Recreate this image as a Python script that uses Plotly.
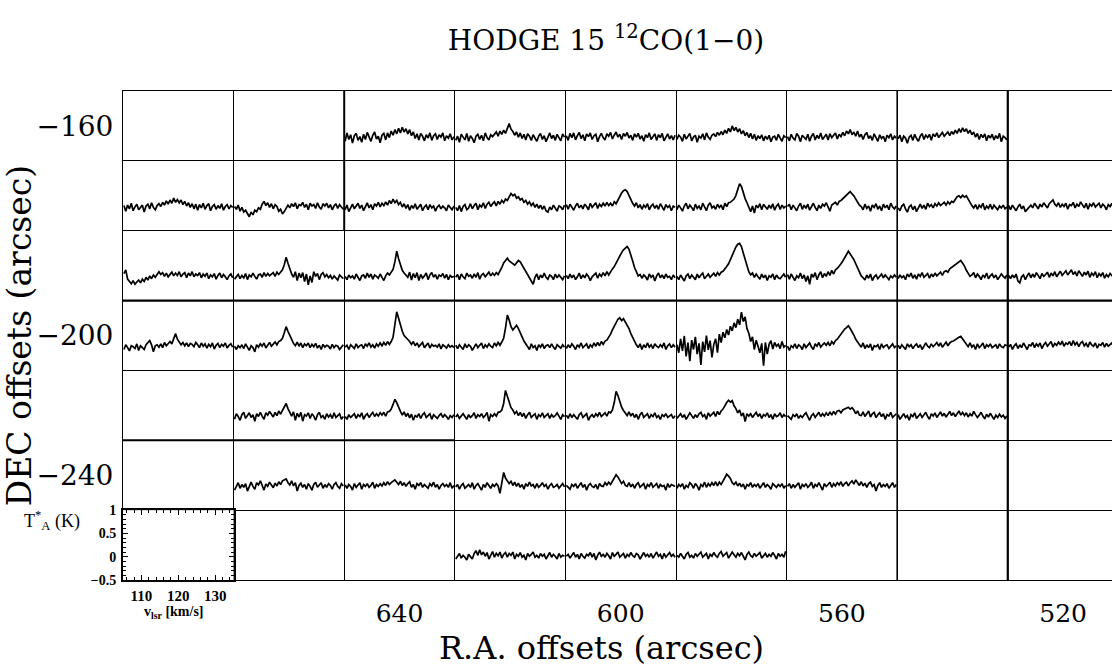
import plotly.graph_objects as go

# ---------------- data ----------------
# every panel: velocity 105..135 km/s (left->right), T*A from -0.5 to 1 K (bottom->top)
V_MIN, V_MAX = 105.0, 135.0
T_MIN, T_MAX = -0.5, 1.0
RA_STEP = 20                                   # arcsec per map column
RA_COLUMNS = [680, 660, 640, 620, 600, 580, 560, 540, 520]
RA_TICKS = [640, 600, 560, 520]
DEC_ROW_LABELS = ["−160", "", "", "−200", "", "−240", ""]   # one entry per map row (top -> bottom)
INSET_V_TICKS = [110, 120, 130]
INSET_T_TICKS = [-0.5, 0, 0.5, 1]

# spectra, T*A in units of 0.01 K, one list per map position {RA offset: values}
ROW0 = {
    640: [-8, 10, -4, 6, -12, 4, 9, -6, 2, -10, 7, -4, 11, 0, -8, 5, 12, -3, 3, -11,
          5, 9, -5, 10, 0, 14, 5, 17, 8, 20, 10, 22, 12, 19, 8, 17, 4, 12, -2, 8,
          -5, 9, 3, -7, 6, -1, 10, -6, 4, 8, -4, 6, 1, 10, -7, 4, -1, 8, -5, 2],
    620: [-6, 3, -10, 7, 1, -5, 9, -8, 4, -2, -11, 3, 7, -4, 5, -7, 10, 0, -5, 6,
          2, 8, 12, 3, 14, 7, 16, 9, 18, 30, 18, 13, 5, 12, 1, 10, -2, 7, -5, 8,
          3, -6, 6, 0, -8, 3, 9, -4, 4, -9, 2, 10, -2, 5, -6, 7, 0, -7, 8, 1],
    600: [4, -6, 9, 0, 10, -5, 4, 11, -2, 6, -7, 8, 2, 10, -4, 4, 7, -9, 2, 9,
          0, -5, 8, 3, 11, -3, 5, 12, 1, 7, -4, 9, 3, 11, -1, 5, -6, 8, 1, 9,
          -3, 4, -8, 6, 0, 10, -4, 3, 8, -6, 6, 0, 9, -7, 2, 8, -3, 4, -5, 5],
    580: [-4, 5, 1, -8, 7, -3, 3, 9, -7, 1, 5, -10, 3, -1, 8, -5, 10, 1, -4, 5,
          8, 2, 11, 5, 13, 6, 16, 9, 20, 12, 25, 15, 22, 12, 19, 8, 15, 4, 11, 0,
          9, -3, 7, -6, 4, -2, 6, -7, 3, -4, 5, -9, 1, 3, -6, 7, -1, -8, 4, 0],
    560: [2, -7, 7, -1, -5, 9, 3, -9, 5, 0, -4, 7, -8, 3, 9, -5, 5, -2, 10, -4,
          3, 7, -5, 8, 0, 5, 10, -3, 7, 2, 11, 4, 14, 8, 17, 6, 12, 3, 14, 1,
          7, -4, 6, 11, -2, 4, -6, 8, 0, -8, 6, -2, 3, -9, 5, 0, 8, -5, 3, -1],
    540: [-3, 5, -9, 3, -1, -12, 1, 5, -6, 7, -2, -8, 3, 9, -4, 5, 0, 7, -6, 8,
          2, 10, 0, 6, 11, 3, 7, 12, 4, 13, 7, 16, 9, 19, 11, 21, 13, 19, 9, 16,
          6, 12, 1, 9, -4, 7, 0, 8, -7, 5, -1, 7, -5, 4, -2, 9, -9, 3, 0, -5],
}
ROW1 = {
    680: [4, -8, 5, -3, 9, -7, 1, 7, -5, -1, 5, -10, 3, 7, -3, 10, 0, -5, 4, 8,
          2, 11, 5, 14, 7, 16, 9, 20, 11, 17, 10, 16, 6, 13, 3, 10, 0, 8, -3, 7,
          -6, 6, -1, 9, -4, 4, 8, -7, 2, 6, -4, 4, -2, 8, -6, 2, 6, -3, 4, 0],
    660: [2, -4, 5, -8, 0, -10, -6, -14, -20, -10, -16, -6, -9, -1, -4, 7, 13, 4, 10, 0,
          8, -3, 6, 2, -8, -4, -14, -9, -2, 5, -1, 8, 2, 10, -3, 6, 4, 11, 0, 7,
          -5, 9, 3, 6, -2, 10, 1, -4, 8, 3, 9, -1, 6, -5, 3, 8, -2, 6, 1, -4],
    640: [-5, 5, -9, 1, 7, -3, 3, 9, -2, 5, -7, 3, 10, -1, 6, -5, 8, 3, 11, 1,
          9, 4, 12, 5, 15, 8, 18, 10, 15, 6, 11, 1, 8, -2, 6, -6, 4, -2, 8, -4,
          3, 7, -7, 1, 5, -5, 6, -1, 3, -8, 1, 5, -3, 3, -1, -7, 5, 0, -5, 3],
    620: [0, -7, 4, -9, 2, 6, -5, -1, 8, -3, 4, 9, -5, 5, 1, 10, -2, 7, 11, 2,
          8, 12, 3, 13, 7, 15, 10, 18, 15, 24, 30, 25, 28, 20, 23, 16, 19, 11, 15, 7,
          12, 4, 9, 0, 7, -2, 5, -4, 3, -7, -10, 1, -5, 5, -1, -8, 3, 1, -5, 5],
    600: [6, -4, 7, 1, -6, 3, 9, -1, 5, -3, 7, 2, -5, 9, 0, 5, 10, -2, 7, 2,
          9, 3, 11, 4, 9, 3, 12, 8, 16, 24, 31, 36, 38, 34, 25, 16, 9, 3, 10, -1,
          6, -4, 5, 0, 8, -5, 3, 7, -2, 5, -4, 8, 2, -6, 6, 0, 4, -7, 3, 0],
    580: [-5, 5, -1, -8, 3, 9, -3, 5, 0, -7, 7, -2, 3, -5, 9, 1, -7, 5, 10, -1,
          3, -4, 7, 0, 5, -5, 9, 2, 10, 11, 14, 18, 26, 39, 51, 45, 31, 19, 10, 2,
          -9, 3, -12, 5, -1, 8, -5, 7, 0, -4, 5, -2, 8, -6, 3, 7, -4, 5, -1, 3],
    560: [2, 7, -5, 5, -1, -7, 3, 9, -4, 5, -2, 7, -6, 3, 9, 0, -7, 5, -2, 7,
          3, 10, 0, -8, 5, 8, 11, 5, 13, 15, 19, 23, 27, 31, 34, 29, 25, 18, 12, 5,
          2, -5, 7, -2, 3, -8, 5, 0, 8, -4, 3, -7, 7, -1, 5, -5, 9, 1, -3, 3],
    540: [-1, -7, 3, 7, -3, -10, 1, 5, -5, 3, -9, 1, 7, -2, 5, -4, 9, 2, 6, -1,
          8, 3, 10, 4, 8, 11, 5, 12, 7, 13, 11, 18, 23, 25, 21, 26, 22, 25, 19, 11,
          4, -1, 6, -4, 5, 0, 9, -5, 3, -2, 7, -4, 5, 0, -5, 3, -1, 5, -3, 1],
    520: [4, -5, 5, -1, -7, 1, 7, -3, 3, -9, -5, 1, 5, -1, 9, 3, -3, 7, 1, 10,
          5, -1, 8, 12, 16, 7, 3, 10, 0, 7, 2, 9, -4, 6, 4, 11, -1, 7, 2, 12,
          5, -1, 9, -4, 7, 3, 10, 1, 5, 9, -1, 7, 3, -5, 6, 2, 9, -2, 4, 7],
}
ROW2 = {
    680: [8, 16, -4, -9, -14, -7, -15, -10, -6, -12, -4, -9, 0, -6, 3, -3, 5, 0, 7, 12,
          6, 10, 2, 9, 1, 7, 11, 3, 9, 4, 12, 1, 7, 10, -1, 9, 3, 12, 1, 7,
          4, 10, -1, 7, 2, 9, -3, 5, 1, 8, -4, 4, 9, -1, 6, 1, -5, 3, 7, -1],
    660: [-4, 2, 6, -3, 4, -1, 8, -5, 5, 1, 9, 2, -4, 5, 7, 0, 10, 2, 8, 3,
          6, 10, 2, 11, 6, 10, 16, 27, 43, 30, 18, 7, 0, 12, -7, 9, -1, 10, -9, 7,
          -16, 3, -11, 12, 2, 8, -5, 6, 10, 1, 6, -1, 4, -4, 3, -2, -6, 5, 0, -3],
    640: [2, -5, 5, -1, 3, -4, 7, 1, -7, 3, 5, -2, 9, 0, 7, -4, 5, 2, -2, 7,
          1, -7, 3, 9, 5, 10, 17, 33, 56, 40, 27, 15, 9, 4, 0, 11, -6, 8, -1, 10,
          -7, 6, -2, 3, 9, -5, 5, 10, 0, 6, -4, 5, 2, 8, -2, 6, -5, 4, 0, 2],
    620: [0, 6, -5, 7, 1, -3, 9, 2, 5, -2, 7, 0, 10, -4, 5, 8, 1, 6, 11, 3,
          9, 4, 10, 6, 13, 21, 31, 37, 41, 35, 32, 28, 26, 31, 36, 33, 26, 19, 11, 4,
          -2, -10, -15, 0, 7, -5, 5, -1, 9, 0, -4, 5, 2, -5, 7, -1, 5, 0, -5, 3],
    600: [4, -3, 7, -1, 5, -5, 1, 9, -3, 5, -1, 7, 2, -7, 1, 5, 9, -2, 7, 2,
          10, 3, 12, 5, 13, 18, 23, 31, 38, 46, 53, 59, 63, 66, 60, 49, 35, 21, 10, 3,
          6, -2, 5, 1, -6, 7, 0, 5, -8, 3, 9, -1, 5, -3, 7, 0, 2, -5, 5, -1],
    580: [2, -5, 5, -1, -8, 3, 7, -3, 5, 0, -5, 7, -1, 5, 9, -3, 3, 7, 0, 5,
          9, 2, 10, 5, 11, 13, 17, 23, 29, 37, 46, 56, 65, 71, 73, 66, 52, 37, 23, 12,
          5, 9, 0, 7, 1, -4, 7, -1, 5, -7, 3, 0, 7, -5, 5, -1, -3, 3, 7, 0],
    560: [6, -4, 7, 1, -7, 3, -1, 9, -3, 5, -9, 3, -15, 7, 0, 10, -5, 5, 12, -1,
          8, 2, 12, 4, 15, 7, 16, 19, 23, 29, 35, 41, 49, 56, 50, 45, 38, 29, 19, 10,
          3, -1, -6, 5, -2, 7, -7, 1, 5, -3, 3, 7, -1, 5, 0, -5, 3, -1, 5, 0],
    540: [-3, 5, -1, 3, -5, 7, 1, 9, -2, 5, -4, 7, 2, 10, 0, 5, 8, -2, 7, 1,
          9, 3, 7, 11, 4, 12, 14, 11, 18, 21, 25, 28, 31, 34, 36, 30, 24, 15, 9, 2,
          5, 10, -1, 7, 2, -5, 5, 0, 9, -3, 3, 7, -1, 5, -5, 1, 7, 2, -2, 5],
    520: [4, -3, 5, -1, 7, -8, -12, 1, 5, -5, 3, 9, -1, 7, 0, 10, 4, -3, 8, 2,
          6, 11, 0, 9, 3, 12, 1, 7, 13, 4, 10, 14, 5, 11, 16, 6, 12, 3, 14, 8,
          2, 11, 5, 13, 0, 9, 4, 12, -1, 8, 3, 10, -2, 6, 1, 8, 4, -1, 6, 3],
}
ROW3 = {
    680: [-5, 5, -1, -8, 3, 1, -3, 7, -7, 3, -1, -5, 5, 9, 14, 5, -10, 3, 5, 0,
          7, -1, 10, 3, 8, 12, 7, 17, 29, 17, 11, 5, 10, 3, 9, 1, 8, 6, 1, 10,
          5, -1, 9, 2, 7, -2, 6, 1, 9, -4, 4, 8, -1, 6, 2, 9, -2, 4, 7, 0],
    660: [2, -5, 3, -1, 5, -3, 7, 1, -7, 3, -1, -10, 5, 0, 7, 2, 9, -2, 5, 10,
          2, 6, 11, 5, 12, 14, 19, 31, 44, 34, 24, 15, 8, 3, 11, 2, 9, -1, 7, 3,
          9, -1, 6, 1, 8, -2, 4, -5, 6, 0, 4, 2, -4, 6, -1, 4, 2, -5, 1, 5],
    640: [0, 4, -5, 5, 1, -3, 7, -1, 3, 5, -3, 7, 2, 9, 0, 5, -2, 7, 2, 9,
          3, 10, 4, 12, 6, 12, 21, 46, 76, 62, 46, 34, 25, 21, 15, 12, 6, 12, 3, 9,
          1, 6, 10, -1, 4, 9, -2, 6, 2, 4, 0, 7, -4, 5, 2, -2, 5, 0, 3, -1],
    620: [4, -3, 5, 1, -5, 7, -1, 5, 2, -7, 1, 7, -1, 3, 9, -3, 5, 0, 7, 2,
          -1, 9, 3, 10, 4, 11, 19, 41, 69, 58, 44, 37, 42, 47, 40, 29, 22, 13, 6, 0,
          -5, 7, -1, 3, -7, 5, 0, 7, -3, 3, 5, -1, 7, 0, -5, 5, 2, -2, 5, 0],
    600: [-3, 5, -1, 7, 2, -5, 5, 0, 9, -1, 3, 7, -3, 5, 0, 9, 2, 10, 3, 12,
          6, 13, 15, 21, 28, 37, 46, 55, 60, 63, 57, 61, 55, 48, 40, 29, 20, 11, 5, -1,
          7, -5, 5, -1, 9, 0, 5, -3, 7, 2, -1, 5, 0, 9, -5, 3, 7, -1, 5, 0],
    580: [5, -12, 18, -8, 24, -20, 10, -30, 15, -5, 22, -15, 8, -38, 12, -10, 25, -6, 14, -22,
          6, 18, -12, 28, 10, 32, 20, 38, 26, 45, 35, 52, 42, 60, 48, 75, 55, 65, 40, 30,
          12, 22, -5, 15, 2, -12, 8, -40, 10, -15, 6, 14, -4, 10, 2, 6, -3, 12, 0, 4],
    560: [2, -7, 3, -1, 7, -3, 5, 2, -5, 7, -1, 5, 9, 0, -5, 7, 2, 10, 0, 5,
          9, 4, 10, 3, 12, 7, 14, 17, 23, 28, 34, 39, 42, 46, 40, 34, 26, 17, 11, 4,
          0, 9, -3, 5, -1, 7, -7, 3, 1, 5, -5, 7, -1, 3, 5, -3, 1, 7, -1, 3],
    540: [4, -3, 5, -1, -5, 7, 1, 5, -3, 3, 7, -1, 5, -5, 1, 9, 2, -1, 7, 1,
          5, 10, 2, 9, 0, 6, 11, 3, 9, 12, 13, 16, 19, 21, 23, 18, 13, 6, 1, 9,
          0, 5, -5, 7, -1, 3, 9, -3, 5, 1, 7, -1, 3, 5, -3, 7, 1, -1, 5, 3],
    520: [0, 6, -5, 3, 7, -3, 5, -1, 9, 1, -5, 5, 3, 10, -1, 7, 2, 9, -3, 5,
          10, 2, 7, 12, 0, 8, 4, 11, 5, 13, 2, 9, 6, 12, 3, 14, 5, 10, 1, 9,
          12, 3, 8, 0, 11, 5, 2, 9, -2, 6, 4, 10, 0, 8, 2, 6, 9, -1, 4, 2],
}
ROW4 = {
    660: [-5, 7, 1, -7, 5, 10, -3, 3, 9, -1, 5, -9, 7, 1, 10, 2, -5, 9, 4, 12,
          6, 0, 10, 3, 13, 6, 14, 21, 29, 18, 9, 2, 11, -7, 8, 0, 10, -9, 5, 2,
          9, -3, 7, 2, -7, 5, 10, -1, 3, -5, 7, 0, 5, -3, 9, -1, 3, 7, -5, 1],
    640: [1, -5, 5, -1, 3, 7, -3, 5, 1, 9, -5, 3, 7, -1, 5, 10, 1, 7, 2, 9,
          4, 10, 2, 11, 12, 17, 27, 38, 31, 20, 12, 4, 11, 1, 8, -2, 6, -7, 3, 0,
          7, -3, 5, 9, -1, 3, 7, -5, 5, 1, -3, 3, 7, -1, 5, 1, -5, 3, -1, 5],
    620: [0, 5, -3, 3, 7, 1, -5, 5, -1, 3, 9, -3, 5, 1, 7, -1, 3, 10, -9, 5,
          1, 7, 2, 10, 11, 15, 29, 57, 45, 31, 20, 15, 7, 12, 3, 10, 1, 8, -3, 5,
          10, -1, 3, 7, -5, 5, 1, 9, -1, 3, 7, -3, 5, 0, 3, 9, 1, -5, 5, 1],
    600: [4, -3, 7, -1, 5, 1, -5, 5, 9, -1, 3, 7, -7, 1, 5, -1, 7, 2, 10, 1,
          5, 9, 2, 11, 9, 15, 31, 55, 46, 32, 21, 14, 9, 3, 11, 2, 8, -1, 6, -5,
          5, 10, -1, 3, 7, -3, 5, 1, 9, -1, 3, -5, 5, 1, 7, -1, 3, 5, -3, 3],
    580: [-3, 3, 7, -1, 5, -5, 1, 9, 3, -3, 5, -1, 7, 10, 1, 5, -5, 9, 2, 7,
          10, 1, 12, 5, 13, 17, 25, 31, 36, 32, 35, 24, 18, 9, 15, 2, 9, -10, 7, 2,
          7, -1, 5, 10, 1, 7, -3, 5, 2, 9, -1, 5, -5, 7, 1, 3, 9, -1, 5, 1],
    560: [3, -1, -5, 5, 1, 7, -3, 3, -1, 5, 9, 1, -7, 3, 7, -1, 5, 10, 1, 7,
          2, 9, 3, 11, 4, 12, 6, 13, 14, 9, 15, 17, 19, 21, 17, 20, 15, 7, 13, 4,
          3, 11, 1, 8, 13, 0, 7, 10, -1, 5, 9, 1, 7, -5, 5, 2, 10, -1, 3, 7],
    540: [5, -5, 1, 7, -1, 3, -7, 5, 1, 9, -3, 3, 7, -1, 5, 10, 1, -5, 7, 2,
          9, -1, 5, 11, 2, 8, 0, 6, 12, 3, 9, 1, 7, 13, 4, 10, 3, 9, 0, 7,
          2, 12, 5, -1, 4, 10, 2, -4, 6, 0, 8, 2, -5, 4, -1, 6, 0, 4, -3, 2],
}
ROW5 = {
    660: [-7, 3, 9, -3, 5, -1, 7, -9, 3, 10, 1, -5, 9, 4, 13, 2, -7, 6, 1, 10,
          4, -2, 8, 2, 11, 5, 13, 15, 17, 9, 4, 13, 2, 9, -9, 3, 8, -1, 5, -5,
          7, 1, -7, 5, 10, -1, 3, 9, -3, 5, -1, 7, 3, -5, 5, 9, 1, -3, 7, 2],
    640: [4, -3, 5, 1, -7, 7, -1, 3, 9, -5, 5, 1, 7, -1, 3, 10, -3, 5, 1, 7,
          2, 9, 3, 11, 5, 9, 13, 15, 10, 5, 12, 3, 9, 1, 7, 11, -1, 5, -5, 7,
          3, 9, -1, 5, 1, -3, 7, 2, 10, -1, 5, -5, 3, 7, 1, 5, -1, 9, -3, 3],
    620: [0, 5, -5, 3, 7, -3, 1, 5, -1, 9, -5, 3, 7, 1, -7, 5, -1, 9, 3, -3,
          5, 1, 7, 2, -14, 8, 31, 19, 12, 7, 12, 3, 10, 1, 8, -1, 5, -5, 7, 1,
          10, 2, 5, -3, 7, -1, 3, 9, 1, 5, -5, 3, 7, -1, 1, 5, -3, 3, 7, 0],
    600: [3, -1, -5, 5, 1, 7, -3, 3, 9, -1, 5, -7, 3, 7, 1, -1, 5, -5, 7, 2,
          1, 9, 4, 10, 5, 12, 19, 26, 21, 14, 7, 12, 3, 1, 9, 0, 6, -3, 5, 9,
          -1, 3, 7, -5, 5, 1, 9, -1, 3, 7, -3, 5, 1, 3, -7, 7, -1, 5, 3, 1],
    580: [-3, 5, 1, 7, -5, 3, -1, 9, 5, -3, 7, 2, -7, 5, 1, 10, -1, 7, 2, 9,
          3, 11, 2, 10, 5, 13, 21, 27, 23, 18, 9, 5, 10, 2, 8, 0, 6, -5, 5, 2,
          9, -1, 5, 1, 7, -3, 3, 9, -1, 5, 1, -5, 7, 3, -1, 5, 1, 7, -3, 3],
    560: [1, 7, -3, 5, -1, 3, 9, -5, 5, 1, 7, -1, 3, 10, -3, 5, 1, 9, 2, -7,
          7, 1, 5, 10, -1, 7, 2, 9, 4, 11, 1, 7, 10, 2, 9, 13, 6, 15, 9, 3,
          11, 2, 8, -1, 7, 10, 1, 5, -9, 3, 9, -1, 5, 1, 7, -3, 3, 9, -1, 5],
}
ROW6 = {
    620: [-5, 1, 7, -3, 3, -1, -7, 5, 1, -5, 7, 13, 3, 15, 4, 10, 1, 9, -5, 5,
          11, -1, 7, 2, 10, -3, 5, 9, -1, 7, 3, 10, -5, 5, 1, 9, -1, 3, -7, 7,
          1, 5, 10, -1, 3, -3, 7, 1, 5, -5, 3, 9, -1, 5, 1, -5, 7, -1, 3, 1],
    600: [1, 5, -3, 3, 9, -1, 5, -5, 7, 1, -3, 5, 2, 9, -1, 7, -7, 3, 10, 1,
          5, -1, 7, 2, -5, 9, 1, 5, 10, -1, 3, 7, -3, 5, 1, 9, 2, -1, 7, 4,
          -5, 3, 9, 1, 5, -1, 7, -3, 3, 10, 1, 5, -5, 7, -1, 3, 9, 1, 5, -1],
    580: [3, -1, 7, 1, -5, 5, 9, -1, 3, -3, 7, 1, 5, 10, -1, 3, 7, -5, 5, 1,
          9, 2, -1, 7, 11, 1, 5, 9, -3, 3, 10, 4, -1, 7, 2, 9, 1, -7, 5, 10,
          2, -1, 7, 1, 5, 9, -3, 3, 7, -1, 5, 1, 9, 3, -5, 7, 1, 5, -1, 12],
}
MAP_ROWS = [ROW0, ROW1, ROW2, ROW3, ROW4, ROW5, ROW6]

# grid boundaries that are drawn heavier in the original map
# (RA boundary, first row, last row, width) and (row boundary, RA from, RA to, width)
HEAVY_V_LINES = [(530, 0, 7, 2.2), (650, 0, 2, 2.0), (550, 0, 7, 1.6)]
HEAVY_H_LINES = [(3, 690, 510, 2.2), (5, 690, 630, 2.0)]

# ---------------- figure ----------------
W, H = 1112, 671
ML, MR, MT, MB = 123, 0, 91, 91
plot_w = W - ML - MR
plot_h = H - MT - MB
col_px = 110.6
ra_left = RA_COLUMNS[0] + RA_STEP / 2
ra_right = ra_left - plot_w / col_px * RA_STEP
n_rows = len(MAP_ROWS)


def px_x(px):
    return (px - ML) / plot_w


def px_y(py):
    return (H - MB - py) / plot_h


fig = go.Figure()
for k, row in enumerate(MAP_ROWS):
    for ra, spec in row.items():
        n = len(spec)
        dv = (V_MAX - V_MIN) / n
        xs, ys = [], []
        for i, t in enumerate(spec):
            v = V_MIN + dv * (i + 0.5)
            xs.append(ra + RA_STEP / 2 - (v - V_MIN) / (V_MAX - V_MIN) * RA_STEP)
            ys.append(-(k + 1) + (t / 100.0 - T_MIN) / (T_MAX - T_MIN))
        fig.add_trace(go.Scatter(x=xs, y=ys, mode="lines",
                                 line=dict(color="black", width=1.7),
                                 hoverinfo="skip", showlegend=False))

# empty trace to carry the inset (scale) axes
fig.add_trace(go.Scatter(x=[None], y=[None], xaxis="x2", yaxis="y2",
                         mode="lines", showlegend=False, hoverinfo="skip"))

shapes = []
for ra_b, r0, r1, lw in HEAVY_V_LINES:
    shapes.append(dict(type="line", xref="x", yref="y", x0=ra_b, x1=ra_b,
                       y0=-r0, y1=-r1, line=dict(color="black", width=lw)))
for row_b, ra0, ra1, lw in HEAVY_H_LINES:
    shapes.append(dict(type="line", xref="x", yref="y", x0=ra0, x1=ra1,
                       y0=-row_b, y1=-row_b, line=dict(color="black", width=lw)))

tick_rows = [i for i, lab in enumerate(DEC_ROW_LABELS) if lab]

fig.update_layout(
    width=W, height=H,
    margin=dict(l=ML, r=MR, t=MT, b=MB, autoexpand=False),
    paper_bgcolor="white", plot_bgcolor="white",
    font=dict(family="DejaVu Serif", color="black"),
    title=dict(text="HODGE 15 <sup>12</sup>CO(1−0)", x=606 / W, xanchor="center",
               y=1 - 40 / H, yanchor="middle", font=dict(size=28)),
    shapes=shapes,
    xaxis=dict(
        range=[ra_left, ra_right], tickvals=RA_TICKS, ticktext=[str(v) for v in RA_TICKS],
        showgrid=False, zeroline=False, showline=True, mirror=True,
        linecolor="black", linewidth=1, ticks="", automargin=False,
        tickfont=dict(size=25), ticklabelstandoff=11,
        minor=dict(tick0=ra_left, dtick=RA_STEP, showgrid=True,
                   gridcolor="black", gridwidth=1, ticks=""),
    ),
    yaxis=dict(
        range=[-n_rows, 0], tickvals=[-(i + 0.5) for i in tick_rows],
        ticktext=[DEC_ROW_LABELS[i] for i in tick_rows],
        showgrid=False, zeroline=False, showline=True, mirror=False,
        linecolor="black", linewidth=1, ticks="", automargin=False,
        tickfont=dict(size=28), ticklabelstandoff=3,
        title=dict(text="DEC offsets (arcsec)", font=dict(size=33), standoff=3),
        minor=dict(tick0=0, dtick=1, showgrid=True, gridcolor="black",
                   gridwidth=1, ticks=""),
    ),
    xaxis2=dict(
        domain=[0, col_px / plot_w], anchor="y2", range=[V_MIN, V_MAX],
        tickvals=INSET_V_TICKS, ticks="inside", ticklen=5, tickwidth=1.2,
        tickcolor="black", showline=True, linewidth=2, linecolor="black",
        mirror="ticks", showgrid=False, zeroline=False, automargin=False,
        tickfont=dict(size=15, family="Liberation Serif", weight="bold"),
        ticklabelstandoff=1,
        minor=dict(dtick=2, ticks="inside", ticklen=3, tickcolor="black"),
    ),
    yaxis2=dict(
        domain=[0, 1 / n_rows], anchor="x2", range=[T_MIN, T_MAX],
        tickvals=INSET_T_TICKS, ticks="inside", ticklen=5, tickwidth=1.2,
        tickcolor="black", showline=True, linewidth=2, linecolor="black",
        mirror="ticks", showgrid=False, zeroline=False, automargin=False,
        tickfont=dict(size=14, family="Liberation Serif", weight="bold"),
        ticklabelstandoff=2,
        minor=dict(dtick=0.1, ticks="inside", ticklen=3, tickcolor="black"),
    ),
    annotations=[
        dict(text="R.A. offsets (arcsec)", xref="paper", yref="paper",
             x=px_x(601), y=px_y(648), xanchor="center", yanchor="middle",
             showarrow=False, font=dict(size=32)),
        dict(text="T<sup>*</sup><sub>A</sub> (K)", xref="paper", yref="paper",
             x=px_x(52), y=px_y(520), xanchor="center", yanchor="middle",
             showarrow=False, font=dict(size=18, family="Liberation Serif")),
        dict(text="v<sub>lsr</sub> [km/s]", xref="paper", yref="paper",
             x=px_x(174), y=px_y(612), xanchor="center", yanchor="middle",
             showarrow=False, font=dict(size=14, family="Liberation Serif", weight="bold")),
    ],
)

fig.write_html("out.html",
               config={"displayModeBar": False},
               post_script="document.body.style.margin='0';"
                           "document.body.style.overflow='hidden';")
